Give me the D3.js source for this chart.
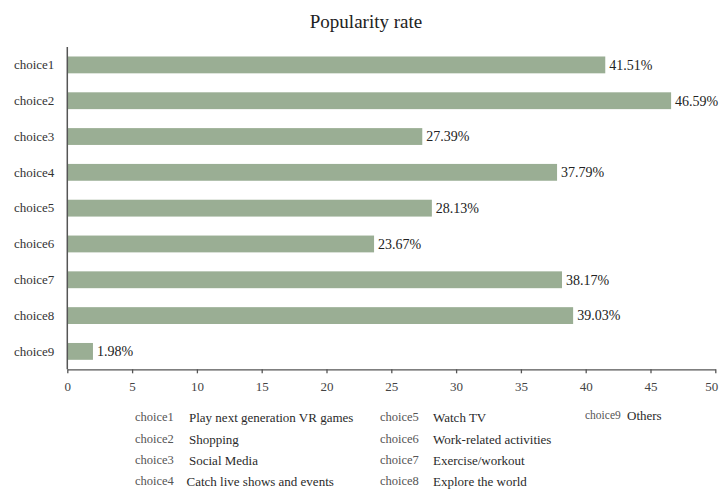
<!DOCTYPE html>
<html>
<head>
<meta charset="utf-8">
<script src="https://cdn.jsdelivr.net/npm/d3@7"></script>
<style>
  html, body { margin: 0; padding: 0; background: #fff; }
  svg { display: block; }
  text { font-family: "Liberation Serif", "DejaVu Serif", serif; }
</style>
</head>
<body>
<svg id="chart" width="719" height="489"></svg>
<script>
// Survey answers and their share of respondents (%)
const categories = ["choice1", "choice2", "choice3", "choice4", "choice5",
                    "choice6", "choice7", "choice8", "choice9"];
const values = [41.51, 46.59, 27.39, 37.79, 28.13, 23.67, 38.17, 39.03, 1.98];
const xTicks = [0, 5, 10, 15, 20, 25, 30, 35, 40, 45, 50];
const descriptions = [
  "Play next generation VR games", "Shopping", "Social Media",
  "Catch live shows and events", "Watch TV", "Work-related activities",
  "Exercise/workout", "Explore the world", "Others"
];

const svg = d3.select("#chart");

const x = d3.scaleLinear().domain([0, 50]).range([67.3, 715.3]);
const y = d3.scaleBand().domain(categories).range([47, 369.3]).paddingInner(0.53).paddingOuter(0.265);

// Title
svg.append("text")
  .attr("x", 366).attr("y", 28)
  .attr("text-anchor", "middle")
  .attr("font-size", 19)
  .attr("fill", "#222")
  .text("Popularity rate");

// Bars
svg.append("g").selectAll("rect")
  .data(categories)
  .join("rect")
  .attr("x", x(0))
  .attr("y", d => y(d))
  .attr("width", (d, i) => x(values[i]) - x(0))
  .attr("height", y.bandwidth())
  .attr("fill", "#9aae94");

// Value labels
svg.append("g").selectAll("text")
  .data(categories)
  .join("text")
  .attr("x", (d, i) => x(values[i]) + 4)
  .attr("y", d => y(d) + y.bandwidth() / 2)
  .attr("dy", "0.35em")
  .attr("font-size", 14)
  .attr("fill", "#222")
  .text((d, i) => values[i].toFixed(2) + "%");

// X axis
const xAxis = svg.append("g")
  .attr("transform", "translate(0,369.3)")
  .call(d3.axisBottom(x).tickValues(xTicks).tickSize(4).tickPadding(8).tickSizeOuter(0));
xAxis.select(".domain").attr("stroke", "#555").attr("stroke-width", 1.3);
xAxis.selectAll(".tick line").attr("stroke", "#555").attr("stroke-width", 1.3);
xAxis.selectAll(".tick text")
  .style("font-family", "'Liberation Serif', serif")
  .attr("font-size", 13)
  .attr("fill", "#444");
// keep the last label inside the frame
xAxis.selectAll(".tick text").filter(d => d === 50).attr("text-anchor", "end").attr("x", 2.5);

// Y axis
const yAxis = svg.append("g")
  .attr("transform", `translate(${x(0)},0)`)
  .call(d3.axisLeft(y).tickSize(0).tickPadding(13));
yAxis.select(".domain").attr("stroke", "#555").attr("stroke-width", 1.5)
  .attr("d", "M0,47V369.3");
yAxis.selectAll(".tick text")
  .style("font-family", "'Liberation Serif', serif")
  .attr("font-size", 13)
  .attr("fill", "#333");

// Legend: choice key and description, three columns
const colX = [[135, 189], [380, 433], [585, 627]];
const rowY = [417, 439, 460, 481];
const legend = svg.append("g");
categories.forEach((c, i) => {
  const col = Math.floor(i / 4), row = i % 4;
  const g = legend.append("g");
  g.append("text")
    .attr("x", colX[col][0]).attr("y", rowY[row] - (i === 8 ? 2 : 0)).attr("dy", "0.35em")
    .attr("font-size", i === 8 ? 11.5 : 12.5).attr("fill", "#555")
    .text(c);
  g.append("text")
    .attr("x", colX[col][1] - (i === 3 ? 2.5 : 0)).attr("y", rowY[row] - (i === 8 ? 2 : 0)).attr("dy", "0.35em")
    .attr("font-size", 13).attr("fill", "#2a2a2a")
    .attr("font-weight", 500)
    .text(descriptions[i]);
});
</script>
</body>
</html>
